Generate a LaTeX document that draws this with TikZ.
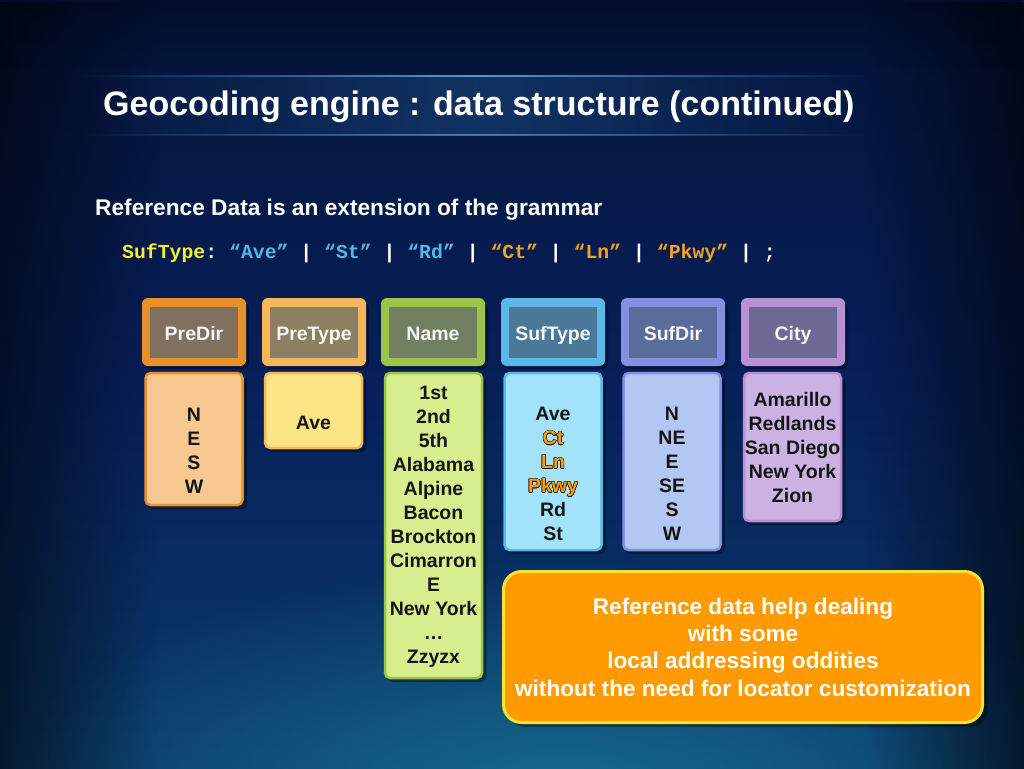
\documentclass[tikz,border=0pt]{standalone}
\usepackage{fontspec}
\setmainfont{Liberation Sans}
\setmonofont{Liberation Mono}
\usepackage{contour}
\usetikzlibrary{fadings}
\definecolor{bgtop}{HTML}{041338}
\definecolor{bgmid}{HTML}{07205A}
\definecolor{bgbot}{HTML}{0A3A6A}
\definecolor{glow}{HTML}{1A7A9A}
\definecolor{band}{HTML}{2A6AA0}
\definecolor{bandline}{HTML}{6AB8E0}
\definecolor{kwyel}{HTML}{F2F02A}
\definecolor{kwblue}{HTML}{52B8EA}
\definecolor{kworg}{HTML}{F2A420}
\definecolor{oPreDir}{HTML}{E8902C}\definecolor{iPreDir}{HTML}{807060}\definecolor{bPreDir}{HTML}{F6C890}
\definecolor{oPreType}{HTML}{F2B85A}\definecolor{iPreType}{HTML}{8C8060}\definecolor{bPreType}{HTML}{FDE484}
\definecolor{oName}{HTML}{9CC447}\definecolor{iName}{HTML}{708060}\definecolor{bName}{HTML}{D6EE8E}
\definecolor{oSufType}{HTML}{5AB8E6}\definecolor{iSufType}{HTML}{4A7898}\definecolor{bSufType}{HTML}{A2E2FA}
\definecolor{oSufDir}{HTML}{8490E0}\definecolor{iSufDir}{HTML}{5A6C9C}\definecolor{bSufDir}{HTML}{B2C8F2}
\definecolor{oCity}{HTML}{B890D4}\definecolor{iCity}{HTML}{6C6A94}\definecolor{bCity}{HTML}{CCB2E2}
\definecolor{calloutfill}{HTML}{FF9A00}
\definecolor{calloutline}{HTML}{F6E232}
\definecolor{hilite}{HTML}{FF9E10}
\tikzfading[name=fade lr, left color=transparent!100, right color=transparent!100, middle color=transparent!0]
\tikzfading[name=myfadeout, inner color=transparent!0, outer color=transparent!100]
\newcommand{\hl}[1]{\contour{black!80!brown}{\textcolor{hilite}{#1}}}
\contourlength{0.5pt}
\begin{document}
\begin{tikzpicture}[x=1pt,y=-1pt,
  hdrout/.style={fill=#1, rounded corners=6pt, minimum width=104pt, minimum height=68pt, inner sep=0pt},
  hdrin/.style={fill=#1, minimum width=88pt, minimum height=51pt, inner sep=0pt, text=white!94!gray,
     text height=20pt, text depth=4pt, font=\bfseries\fontsize{19.5}{22}\selectfont},
  bodybox/.style={fill=#1, rounded corners=5pt, line width=2.5pt, inner sep=0pt},
  bodytext/.style={align=center, inner sep=0pt, font=\bfseries\fontsize{19.5}{24}\selectfont, text=black!92},
  shadow/.style={fill=black, opacity=0.35, rounded corners=6pt}
]
\useasboundingbox (0,0) rectangle (1024,768);
% background
\shade[top color=bgtop, bottom color=bgbot, middle color=bgmid] (0,0) rectangle (1024,768);
\fill[glow, path fading=myfadeout, opacity=0.75] (560,790) ellipse [x radius=560pt, y radius=230pt];
\fill[black, path fading=east, opacity=0.55] (0,0) rectangle (160,768);
\fill[black, path fading=west, opacity=0.6] (864,0) rectangle (1024,768);
\fill[black, path fading=south, opacity=0.25] (0,0) rectangle (1024,70);
% title band
\fill[band, path fading=fade lr, opacity=0.35] (80,76) rectangle (870,135);
\fill[bandline, path fading=fade lr, opacity=0.8] (80,75) rectangle (870,77);
\fill[bandline, path fading=fade lr, opacity=0.6] (80,134) rectangle (870,136);
\node[anchor=base west, inner sep=0pt, text=white, font=\bfseries\fontsize{34}{40}\selectfont] (title) at (103,115)
  {Geocoding engine : data structure (continued)};
\node[anchor=base west, inner sep=0pt, text=white, font=\bfseries\fontsize{22.7}{26}\selectfont] (sub) at (95,215)
  {Reference Data is an extension of the grammar};
\node[anchor=base west, inner sep=0pt, text=white, font=\ttfamily\bfseries\fontsize{19.8}{22}\selectfont] (gram) at (122,258)
  {\textcolor{kwyel}{SufType}: \textcolor{kwblue}{“Ave”} | \textcolor{kwblue}{“St”} | \textcolor{kwblue}{“Rd”} | \textcolor{kworg}{“Ct”} | \textcolor{kworg}{“Ln”} | \textcolor{kworg}{“Pkwy”} | ;};
% headers
\foreach \nm/\cx in {PreDir/194, PreType/314, Name/433, SufType/553, SufDir/673, City/793}{
  \fill[shadow] (\cx-50,302) rectangle (\cx+55,369);
  \node[hdrout=o\nm] (h\nm) at (\cx,332) {};
  \node[hdrin=i\nm] (hi\nm) at (\cx,332) {\nm};
}
% bodies
\foreach \nm/\cx/\top/\bot in {PreDir/194/373/505, PreType/313.5/373/448, Name/433.5/373/678, SufType/553/373/550, SufDir/672/373/550, City/792.5/373/521}{
  \fill[shadow] (\cx-47,377) rectangle (\cx+53,\bot+4);
  \draw[bodybox=b\nm, draw=o\nm] (\cx-48.5,\top) rectangle (\cx+48.5,\bot);
}
\node[bodytext] (tPreDir) at (194,451) {N\\E\\S\\W};
\node[bodytext] (tPreType) at (313.5,423) {Ave};
\node[bodytext] (tName) at (433.5,527) {1st\\2nd\\5th\\Alabama\\Alpine\\Bacon\\Brockton\\Cimarron\\E\\New York\\…\\Zzyzx};
\node[bodytext] (tSufType) at (553,474) {Ave\\\hl{Ct}\\\hl{Ln}\\\hl{Pkwy}\\Rd\\St};
\node[bodytext] (tSufDir) at (672,474) {N\\NE\\E\\SE\\S\\W};
\node[bodytext] (tCity) at (792.5,448) {Amarillo\\Redlands\\San Diego\\New York\\Zion};
% callout
\fill[shadow, rounded corners=18pt] (507,576) rectangle (988,727);
\node[fill=calloutfill, draw=calloutline, line width=3pt, rounded corners=18pt,
      minimum width=479pt, minimum height=151pt, inner sep=0pt,
      align=center, text=white, font=\bfseries\fontsize{22.6}{27.3}\selectfont] (callout) at (743,647)
  {Reference data help dealing\\with some\\local addressing oddities\\without the need for locator customization};
\end{tikzpicture}
\end{document}
